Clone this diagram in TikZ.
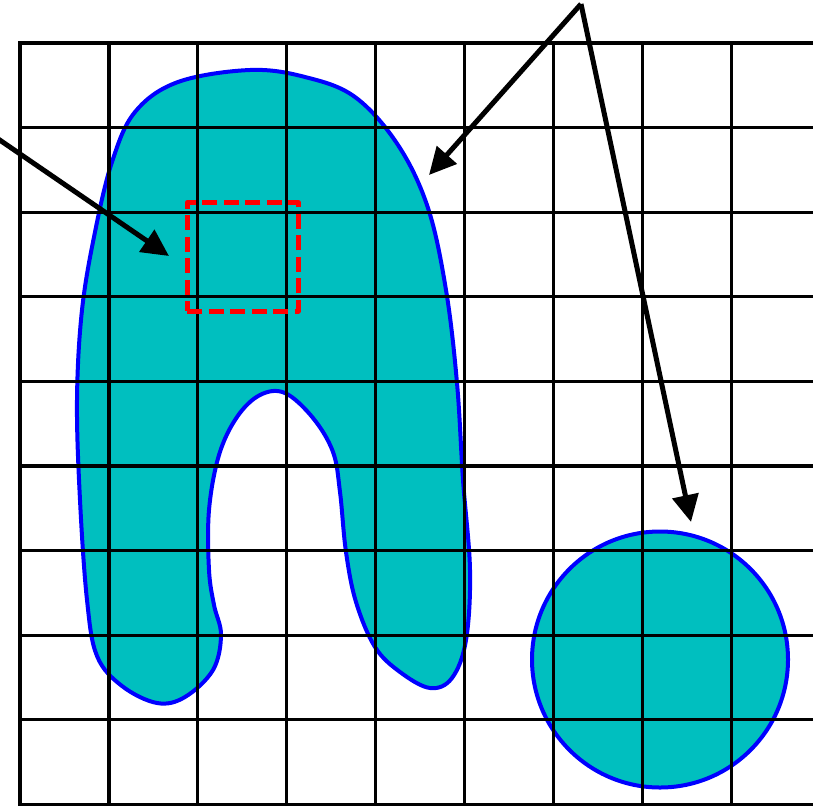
\documentclass[tikz,border=0pt]{standalone}
\usetikzlibrary{arrows.meta}
\definecolor{blobfill}{RGB}{0,191,191}
\definecolor{blobline}{RGB}{0,0,255}
\definecolor{boxred}{RGB}{255,0,0}
\tikzset{
  shapeline/.style={draw=blobline, fill=blobfill, line width=4pt, line join=round},
  gridline/.style={draw=black, line width=3.3pt},
  redbox/.style={draw=boxred, line width=4.5pt, dash pattern=on 15pt off 6.5pt, line join=round},
  pointer/.style={draw=black, line width=5pt, -{Triangle[length=27pt,width=26pt]}}
}
\begin{document}
\begin{tikzpicture}[x=1pt,y=-1pt]
\useasboundingbox (0,0) rectangle (813,806);
% blob
\draw[shapeline] plot[smooth cycle, tension=0.6] coordinates {
 (250,70) (305,77) (355,97) (398,145) (428,208) (446,290) (457,383)
 (463,480) (470,570) (466,640) (452,678) (430,688) (400,672) (375,647)
 (356,602) (346,552) (340,492) (333,452) (313,418) (285,393) (260,395)
 (237,417) (219,455) (209,510) (209,570) (214,605) (221,635) (213,670)
 (185,697) (157,703) (122,686) (97,656) (87,600) (80,500) (77,400)
 (82,310) (95,232) (112,162) (135,112) (178,82)
};
% circle
\draw[shapeline] (660,659.5) circle (128);
% grid
\foreach \k in {0,...,8} {
  \draw[gridline] ({20+88.9*\k},43) -- ({20+88.9*\k},806);
}
\foreach \k in {0,...,9} {
  \draw[gridline] (18.35,{43+84.6*\k}) -- (813,{43+84.6*\k});
}
% red dashed box
\node[redbox, minimum width=111pt, minimum height=109pt, inner sep=0pt, anchor=north west] (rbox) at (185,200) {};
% arrows
\coordinate (ltail) at (-12,132);
\coordinate (ltip) at (169,256);
\coordinate (top) at (581,4);
\coordinate (tipa) at (429,175);
\coordinate (tipb) at (691,522);
\draw[pointer] (ltail) -- (ltip);
\draw[pointer] (top) -- (tipa);
\draw[pointer] (top) -- (tipb);
\end{tikzpicture}
\end{document}
